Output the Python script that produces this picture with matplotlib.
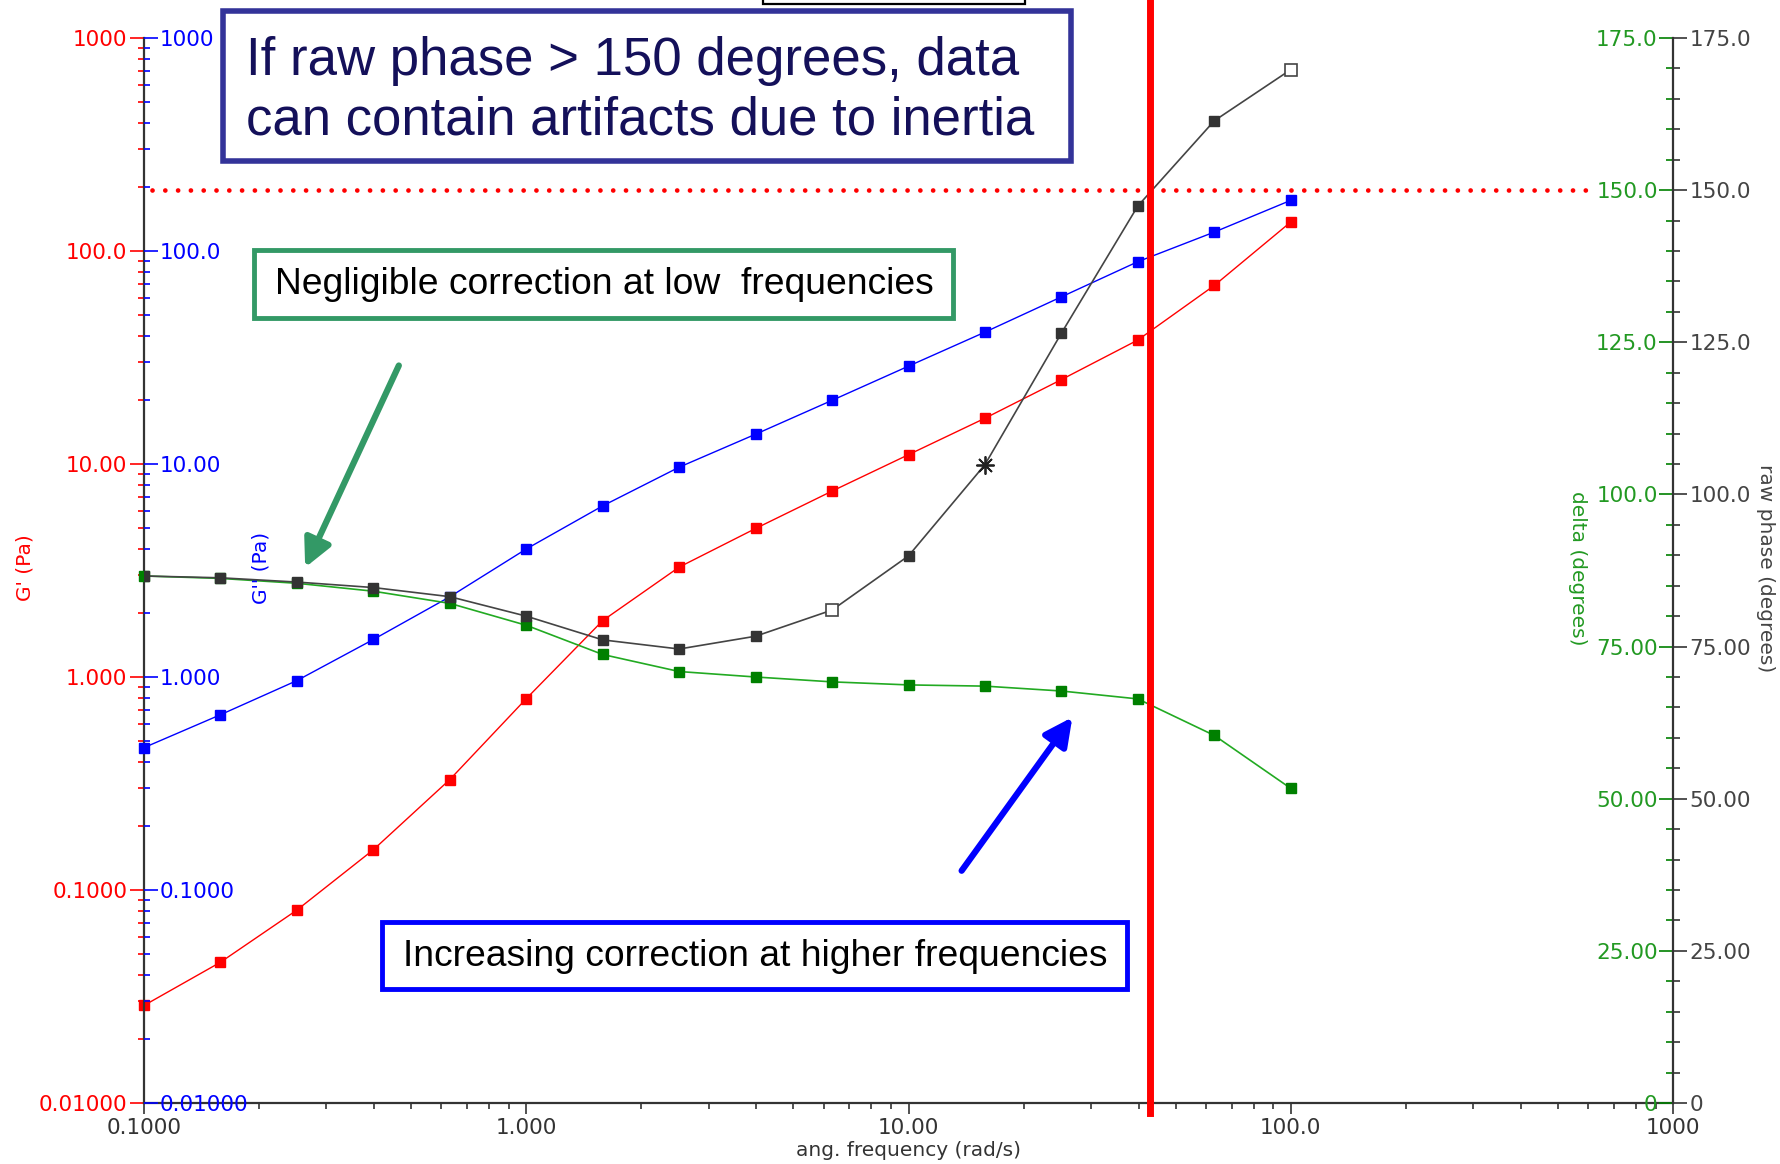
import matplotlib
matplotlib.use("Agg")
import matplotlib.pyplot as plt
from matplotlib.patches import Rectangle, FancyArrowPatch
from matplotlib.ticker import FixedLocator, LogLocator, NullFormatter, MultipleLocator
from matplotlib.transforms import blended_transform_factory

### Daten
freq = [0.1, 0.1585, 0.2512, 0.3981, 0.631, 1.0, 1.585, 2.512, 3.981, 6.31,
        10.0, 15.85, 25.12, 39.81, 63.1, 100.0]
g_storage = [0.0287, 0.0458, 0.0805, 0.1545, 0.330, 0.791, 1.84, 3.28, 4.98, 7.46,
             11.06, 16.4, 24.9, 38.2, 68.9, 136.8]
g_loss = [0.466, 0.665, 0.962, 1.50, 2.38, 3.99, 6.36, 9.66, 13.8, 19.9,
          28.8, 41.6, 60.9, 89.1, 122.7, 172.9]
delta = [86.6, 86.2, 85.4, 84.1, 82.1, 78.5, 73.7, 70.9, 70.0, 69.2,
         68.7, 68.5, 67.7, 66.4, 60.4, 51.7]
raw_phase = [86.6, 86.3, 85.6, 84.7, 83.2, 80.0, 76.1, 74.6, 76.7, 81.0,
             89.9, 104.9, 126.5, 147.4, 161.4, 169.8]
raw_open = [9, 15]      # offene Quadrate
raw_star = [11]         # Stern
phase_limit = 150.0
freq_limit = 42.9

x_ticks = [0.1, 1, 10, 100, 1000]
x_labels = ["0.1000", "1.000", "10.00", "100.0", "1000"]
g_ticks = [0.01, 0.1, 1, 10, 100, 1000]
g_labels = ["0.01000", "0.1000", "1.000", "10.00", "100.0", "1000"]
deg_ticks = [0, 25, 50, 75, 100, 125, 150, 175]
deg_labels = ["0", "25.00", "50.00", "75.00", "100.0", "125.0", "150.0", "175.0"]

W, H = 1780, 1164
def fx(px):
    return px / W
def fy(py):
    return 1 - py / H

RED, BLUE, GREEN, GRAY = "#ff0000", "#0000ff", "#008000", "#333333"
tick_font = 15.5
label_font = 14.5

fig = plt.figure(figsize=(W / 100, H / 100), dpi=100)
ax = fig.add_axes([fx(144), fy(1103), (1673 - 144) / W, (1103 - 38) / H])
ax_b = ax.twinx()
ax_d = ax.twinx()
ax_r = ax.twinx()

for a in (ax, ax_b, ax_d, ax_r):
    a.set_xscale("log")
    a.set_xlim(0.1, 1000)
    for s in a.spines.values():
        s.set_visible(False)

### G' (rot), linke Achse aussen
ax.set_yscale("log")
ax.set_ylim(0.01, 1000)
ax.spines["left"].set_visible(True)
ax.spines["left"].set_color(GRAY)
ax.spines["left"].set_linewidth(1.6)
ax.spines["bottom"].set_visible(True)
ax.spines["bottom"].set_color(GRAY)
ax.spines["bottom"].set_linewidth(1.6)
ax.yaxis.set_major_locator(FixedLocator(g_ticks))
ax.set_yticklabels(g_labels)
ax.yaxis.set_minor_locator(LogLocator(base=10, subs=range(2, 10)))
ax.yaxis.set_minor_formatter(NullFormatter())
ax.tick_params(axis="y", which="major", direction="out", length=10, width=1.2,
               color=RED, labelcolor=RED, labelsize=tick_font, pad=2)
ax.tick_params(axis="y", which="minor", direction="out", length=4, width=1.2, color=RED)
ax.set_xticks(x_ticks)
ax.set_xticklabels(x_labels)
ax.xaxis.set_minor_locator(LogLocator(base=10, subs=range(2, 10)))
ax.xaxis.set_minor_formatter(NullFormatter())
ax.tick_params(axis="x", which="major", direction="out", length=8, width=1.2,
               color=GRAY, labelcolor=GRAY, labelsize=tick_font, pad=3)
ax.tick_params(axis="x", which="minor", direction="out", length=4, width=1.2, color=GRAY)
ax.plot(freq, g_storage, color=RED, lw=1, marker="s", ms=6.5, mec=RED, mfc=RED, clip_on=False)

### G'' (blau), linke Achse innen
ax_b.set_yscale("log")
ax_b.set_ylim(0.01, 1000)
ax_b.yaxis.tick_left()
ax_b.yaxis.set_major_locator(FixedLocator(g_ticks))
ax_b.set_yticklabels(g_labels, ha="left")
ax_b.yaxis.set_minor_locator(LogLocator(base=10, subs=range(2, 10)))
ax_b.yaxis.set_minor_formatter(NullFormatter())
ax_b.tick_params(axis="y", which="major", direction="in", length=10, width=1.2,
                 color=BLUE, labelcolor=BLUE, labelsize=tick_font, pad=-11)
ax_b.tick_params(axis="y", which="minor", direction="in", length=4, width=1.2, color=BLUE)
ax_b.tick_params(axis="x", which="both", bottom=False, labelbottom=False)
ax_b.plot(freq, g_loss, color=BLUE, lw=1, marker="s", ms=6.5, mec=BLUE, mfc=BLUE, clip_on=False)

### delta (gruen), rechte Achse innen
ax_d.set_ylim(0, 175)
ax_d.yaxis.tick_right()
ax_d.yaxis.set_major_locator(FixedLocator(deg_ticks))
ax_d.set_yticklabels(deg_labels, ha="right")
ax_d.yaxis.set_minor_locator(MultipleLocator(5))
ax_d.tick_params(axis="y", which="major", direction="in", length=10, width=1.2,
                 color=GREEN, labelcolor="#229922", labelsize=tick_font, pad=-11)
ax_d.tick_params(axis="y", which="minor", direction="in", length=5, width=1.2, color=GREEN)
ax_d.tick_params(axis="x", which="both", bottom=False, labelbottom=False)
ax_d.plot(freq, delta, color="#22aa22", lw=1.2, marker="s", ms=6.5, mec=GREEN, mfc=GREEN, clip_on=False)

### raw phase (grau), rechte Achse aussen
ax_r.set_ylim(0, 175)
ax_r.spines["right"].set_visible(True)
ax_r.spines["right"].set_color(GRAY)
ax_r.spines["right"].set_linewidth(1.6)
ax_r.yaxis.set_major_locator(FixedLocator(deg_ticks))
ax_r.set_yticklabels(deg_labels)
ax_r.yaxis.set_minor_locator(MultipleLocator(5))
ax_r.tick_params(axis="y", which="major", direction="out", length=10, width=1.2,
                 color=GRAY, labelcolor="#444444", labelsize=tick_font, pad=2)
ax_r.tick_params(axis="y", which="minor", direction="out", length=5, width=1.2, color=GRAY)
ax_r.tick_params(axis="x", which="both", bottom=False, labelbottom=False)
ax_r.plot(freq, raw_phase, color="#444444", lw=1.2, zorder=2)
filled = [i for i in range(len(freq)) if i not in raw_open + raw_star]
ax_r.plot([freq[i] for i in filled], [raw_phase[i] for i in filled], ls="none",
          marker="s", ms=6.5, mfc=GRAY, mec=GRAY, zorder=3)
ax_r.plot([freq[i] for i in raw_open], [raw_phase[i] for i in raw_open], ls="none",
          marker="s", ms=8, mfc="white", mec="#444444", mew=1.2, zorder=3)
ax_r.plot([freq[i] for i in raw_star], [raw_phase[i] for i in raw_star], ls="none",
          marker=(8, 2, 0), ms=13, mec="#222222", mew=1.3, zorder=3)

# 150 Grad Grenze, gepunktet
ax_r.plot([0.105, 600], [phase_limit, phase_limit], color=RED, lw=3.4,
          ls=(0, (0.01, 2.7)), dash_capstyle="round", zorder=4)

# senkrechte rote Linie
tr = blended_transform_factory(ax_r.transData, fig.transFigure)
ax_r.plot([freq_limit, freq_limit], [1.0, fy(1113)], transform=tr, color=RED,
          lw=5, clip_on=False, zorder=5)

### Achsenbeschriftungen
fig.text(fx(25), fy(568), "G' (Pa)", color=RED, rotation=90, fontsize=label_font,
         ha="center", va="center")
fig.text(fx(261), fy(568), "G'' (Pa)", color=BLUE, rotation=90, fontsize=label_font,
         ha="center", va="center")
fig.text(fx(1578), fy(568), "delta (degrees)", color="#229922", rotation=270,
         fontsize=label_font, ha="center", va="center")
fig.text(fx(1765), fy(568), "raw phase (degrees)", color="#444444", rotation=270,
         fontsize=label_font, ha="center", va="center")
fig.text(fx(908), fy(1151), "ang. frequency (rad/s)", color=GRAY, fontsize=label_font,
         ha="center", va="center")

### Kaesten
box_font = ["Liberation Sans Narrow", "Liberation Sans"]

def box(x0, y0, x1, y1, edge, lw):
    fig.add_artist(Rectangle((fx(x0), fy(y1)), fx(x1) - fx(x0), fy(y0) - fy(y1),
                             transform=fig.transFigure, facecolor="white",
                             edgecolor=edge, lw=lw, zorder=6))

# halb verdeckter Kasten oben
fig.add_artist(Rectangle((fx(763), fy(4)), fx(1025) - fx(763), 0.05,
                         transform=fig.transFigure, facecolor="white",
                         edgecolor="black", lw=1.6, zorder=5))

box(223, 11, 1071, 161, "#333399", 4)
fig.text(fx(246), fy(91), "If raw phase > 150 degrees, data\ncan contain artifacts due to inertia",
         family=box_font, fontsize=38, color="#14105a", ha="left", va="center",
         linespacing=1.24, zorder=7)

box(254, 250, 953, 318, "#339966", 3.5)
fig.text(fx(604), fy(285), "Negligible correction at low  frequencies",
         family=box_font, fontsize=26.8, color="black", ha="center", va="center", zorder=7)

box(382, 922, 1127, 989, BLUE, 3.5)
fig.text(fx(755), fy(957), "Increasing correction at higher frequencies",
         family=box_font, fontsize=26.8, color="black", ha="center", va="center", zorder=7)

### Pfeile
fig.add_artist(FancyArrowPatch((fx(400), fy(363)), (fx(304), fy(570)),
                               transform=fig.transFigure, arrowstyle="-|>",
                               mutation_scale=42, lw=4.5, color="#339966", zorder=7))
fig.add_artist(FancyArrowPatch((fx(960), fy(873)), (fx(1074), fy(715)),
                               transform=fig.transFigure, arrowstyle="-|>",
                               mutation_scale=42, lw=4.5, color=BLUE, zorder=7))

fig.savefig("out.png", dpi=100)
